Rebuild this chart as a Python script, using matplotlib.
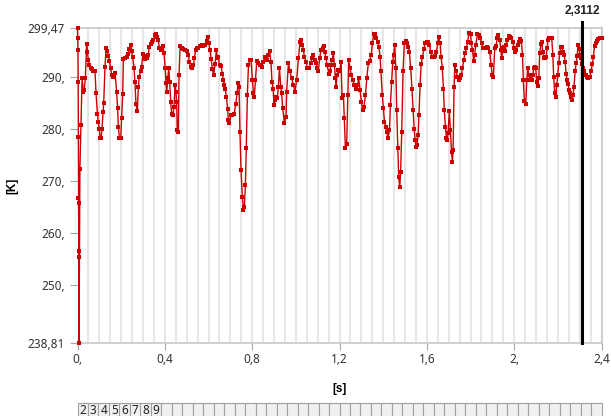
import matplotlib
matplotlib.use('Agg')
import matplotlib.pyplot as plt
import matplotlib.transforms as mtransforms
from matplotlib.ticker import MultipleLocator
from matplotlib.patches import Rectangle

# temperature probe values
time_s = [
    0.000, 0.001, 0.002, 0.003, 0.004, 0.0045, 0.005, 0.0055, 0.006, 0.007,
    0.011, 0.016, 0.021, 0.027, 0.031, 0.036, 0.042, 0.045, 0.050, 0.054,
    0.060, 0.065, 0.073, 0.080, 0.085, 0.091, 0.095, 0.100, 0.103, 0.108,
    0.112, 0.117, 0.120, 0.126, 0.131, 0.137, 0.141, 0.146, 0.152, 0.157,
    0.161, 0.167, 0.172, 0.179, 0.184, 0.187, 0.192, 0.198, 0.202, 0.207,
    0.210, 0.218, 0.225, 0.233, 0.237, 0.244, 0.248, 0.253, 0.259, 0.263,
    0.268, 0.274, 0.279, 0.283, 0.289, 0.294, 0.299, 0.305, 0.309, 0.317,
    0.324, 0.329, 0.335, 0.340, 0.347, 0.355, 0.360, 0.366, 0.370, 0.375,
    0.381, 0.386, 0.390, 0.396, 0.402, 0.405, 0.409, 0.413, 0.418, 0.422,
    0.427, 0.431, 0.436, 0.442, 0.447, 0.451, 0.454, 0.457, 0.462, 0.465,
    0.470, 0.477, 0.485, 0.492, 0.500, 0.508, 0.512, 0.518, 0.526, 0.531,
    0.535, 0.541, 0.547, 0.554, 0.561, 0.569, 0.576, 0.584, 0.592, 0.596,
    0.602, 0.607, 0.612, 0.618, 0.624, 0.630, 0.636, 0.641, 0.645, 0.651,
    0.657, 0.663, 0.668, 0.673, 0.677, 0.682, 0.688, 0.691, 0.696, 0.703,
    0.709, 0.718, 0.725, 0.731, 0.735, 0.740, 0.744, 0.749, 0.755, 0.760,
    0.764, 0.769, 0.773, 0.778, 0.783, 0.789, 0.795, 0.801, 0.806, 0.810,
    0.815, 0.821, 0.828, 0.836, 0.844, 0.851, 0.859, 0.867, 0.874, 0.880,
    0.886, 0.891, 0.896, 0.900, 0.905, 0.909, 0.915, 0.920, 0.925, 0.931,
    0.935, 0.940, 0.948, 0.955, 0.958, 0.966, 0.973, 0.981, 0.989, 0.996,
    1.004, 1.012, 1.019, 1.024, 1.030, 1.035, 1.039, 1.047, 1.053, 1.060,
    1.068, 1.074, 1.080, 1.086, 1.093, 1.099, 1.103, 1.109, 1.115, 1.123,
    1.128, 1.132, 1.138, 1.144, 1.151, 1.157, 1.161, 1.166, 1.172, 1.177,
    1.181, 1.184, 1.189, 1.195, 1.201, 1.207, 1.212, 1.218, 1.222, 1.227,
    1.233, 1.238, 1.242, 1.248, 1.254, 1.261, 1.268, 1.274, 1.282, 1.288,
    1.294, 1.300, 1.306, 1.312, 1.319, 1.325, 1.332, 1.338, 1.345, 1.351,
    1.357, 1.363, 1.369, 1.375, 1.380, 1.386, 1.390, 1.396, 1.401, 1.406,
    1.412, 1.416, 1.422, 1.429, 1.433, 1.439, 1.444, 1.448, 1.453, 1.458,
    1.462, 1.467, 1.471, 1.476, 1.480, 1.485, 1.491, 1.497, 1.503, 1.508,
    1.514, 1.520, 1.526, 1.532, 1.537, 1.542, 1.546, 1.551, 1.555, 1.560,
    1.564, 1.569, 1.574, 1.580, 1.586, 1.592, 1.600, 1.607, 1.612, 1.618,
    1.625, 1.632, 1.638, 1.644, 1.650, 1.654, 1.661, 1.665, 1.671, 1.676,
    1.680, 1.685, 1.690, 1.694, 1.697, 1.703, 1.708, 1.713, 1.717, 1.720,
    1.725, 1.728, 1.734, 1.740, 1.746, 1.752, 1.758, 1.763, 1.769, 1.775,
    1.781, 1.787, 1.793, 1.800, 1.804, 1.809, 1.815, 1.819, 1.824, 1.832,
    1.839, 1.845, 1.851, 1.858, 1.864, 1.870, 1.876, 1.882, 1.888, 1.894,
    1.900, 1.905, 1.911, 1.917, 1.923, 1.928, 1.934, 1.939, 1.943, 1.948,
    1.954, 1.958, 1.963, 1.969, 1.975, 1.981, 1.987, 1.993, 2.000, 2.004,
    2.010, 2.016, 2.022, 2.029, 2.033, 2.038, 2.042, 2.047, 2.053, 2.058,
    2.062, 2.067, 2.071, 2.076, 2.081, 2.085, 2.090, 2.094, 2.099, 2.103,
    2.108, 2.113, 2.117, 2.122, 2.126, 2.131, 2.135, 2.142, 2.146, 2.151,
    2.155, 2.160, 2.166, 2.172, 2.177, 2.181, 2.186, 2.190, 2.195, 2.200,
    2.204, 2.209, 2.213, 2.219, 2.224, 2.229, 2.233, 2.238, 2.242, 2.247,
    2.252, 2.256, 2.261, 2.265, 2.270, 2.274, 2.279, 2.284, 2.288, 2.293,
    2.297, 2.302, 2.305, 2.310, 2.316, 2.322, 2.328, 2.334, 2.340, 2.346,
    2.352, 2.358, 2.363, 2.368, 2.374, 2.380, 2.386, 2.393, 2.400,
]
temp_k = [
    299.47, 297.6, 295.2, 289.0, 278.5, 266.8, 265.7, 256.6, 255.4, 238.81,
    272.4, 280.8, 289.8, 287.2, 287.5, 289.9, 296.4, 294.9, 293.3, 292.3,
    291.8, 291.5, 291.1, 291.1, 286.9, 283.0, 281.4, 280.1, 278.2, 278.2,
    280.1, 283.2, 285.0, 292.0, 295.7, 295.0, 294.1, 293.1, 291.7, 290.5,
    290.1, 290.4, 290.9, 287.2, 284.0, 280.5, 278.2, 278.2, 282.1, 286.7,
    293.5, 293.6, 293.9, 294.4, 295.4, 296.2, 295.0, 293.8, 291.7, 289.1,
    284.8, 283.5, 288.2, 290.1, 291.1, 292.0, 294.4, 294.1, 293.5, 293.6,
    294.3, 295.9, 296.3, 296.7, 297.2, 298.1, 298.3, 297.8, 297.2, 295.6,
    295.2, 295.4, 296.1, 294.6, 291.7, 288.8, 287.2, 289.8, 291.7, 289.1,
    285.3, 283.0, 282.7, 284.3, 288.5, 287.2, 285.3, 279.8, 279.5, 290.4,
    296.1, 295.6, 295.4, 295.2, 295.0, 294.3, 292.9, 292.0, 291.8, 292.3,
    293.6, 295.2, 295.6, 295.7, 296.1, 296.2, 296.1, 296.2, 297.0, 297.8,
    296.5, 295.2, 293.5, 291.6, 290.4, 292.5, 295.2, 293.6, 293.9, 292.3,
    292.2, 290.7, 289.5, 288.5, 287.8, 286.2, 283.8, 281.7, 281.1, 282.7,
    282.8, 283.0, 284.9, 286.9, 288.8, 288.2, 279.5, 272.1, 267.0, 264.4,
    265.0, 269.2, 276.3, 286.6, 292.3, 293.3, 293.3, 289.5, 286.9, 286.2,
    289.5, 293.1, 292.7, 292.3, 292.0, 293.0, 293.9, 293.3, 294.3, 295.0,
    292.9, 289.0, 287.8, 284.6, 285.6, 286.2, 285.9, 288.2, 291.7, 288.2,
    286.9, 284.0, 281.1, 282.4, 287.2, 292.7, 291.1, 289.8, 288.5, 287.2,
    289.5, 293.6, 296.8, 297.2, 296.2, 295.2, 293.9, 293.0, 291.8, 291.7,
    292.7, 293.6, 294.3, 293.3, 292.7, 291.7, 291.1, 293.6, 295.2, 295.7,
    296.1, 294.9, 293.6, 292.3, 290.7, 291.1, 292.3, 293.3, 294.6, 292.3,
    289.8, 288.2, 290.4, 291.4, 291.1, 293.0, 286.0, 286.6, 282.1, 276.3,
    277.2, 286.6, 293.3, 291.7, 290.4, 289.5, 288.5, 287.8, 288.5, 289.8,
    287.5, 285.3, 283.7, 284.3, 286.6, 289.8, 292.7, 293.1, 294.3, 296.5,
    298.4, 298.3, 297.5, 296.8, 295.9, 293.9, 291.1, 286.6, 284.0, 281.4,
    280.5, 279.5, 278.2, 279.8, 284.6, 289.1, 293.0, 294.3, 296.2, 291.7,
    283.7, 276.3, 270.8, 268.9, 271.8, 279.5, 291.1, 296.5, 297.0, 296.5,
    295.9, 294.9, 291.7, 287.8, 283.7, 280.1, 277.9, 276.6, 276.9, 278.9,
    282.7, 288.5, 292.5, 293.9, 295.4, 296.5, 296.8, 296.7, 296.2, 294.9,
    293.9, 293.8, 294.1, 294.9, 296.5, 297.8, 296.5, 293.9, 291.8, 287.8,
    283.7, 280.5, 278.2, 277.9, 279.2, 283.5, 279.8, 275.6, 273.7, 275.9,
    288.2, 292.3, 291.1, 290.1, 289.5, 289.8, 290.4, 291.7, 293.3, 294.6,
    295.6, 296.8, 298.6, 298.3, 296.5, 295.2, 293.1, 294.3, 296.2, 298.3,
    298.1, 297.5, 296.5, 295.6, 295.6, 295.6, 295.9, 295.6, 294.9, 292.3,
    290.4, 290.1, 295.6, 296.1, 297.5, 298.1, 297.2, 295.2, 293.6, 295.6,
    295.9, 295.0, 296.2, 297.2, 298.0, 297.8, 297.6, 296.8, 295.7, 294.8,
    295.2, 296.2, 296.7, 297.3, 297.0, 294.3, 289.5, 285.4, 284.8, 289.5,
    291.7, 290.4, 289.5, 290.5, 289.5, 290.4, 291.7, 292.0, 291.7, 289.1,
    288.3, 289.8, 294.6, 296.3, 296.8, 294.9, 293.6, 293.6, 293.9, 295.6,
    297.2, 297.6, 297.6, 297.5, 294.3, 290.1, 286.9, 286.2, 288.5, 290.4,
    292.7, 294.6, 295.9, 295.9, 294.9, 294.3, 293.0, 290.7, 289.5, 288.6,
    287.5, 286.9, 286.2, 285.6, 286.6, 288.2, 291.1, 292.7, 294.1, 296.2,
    295.4, 294.3, 293.6, 292.5, 291.7, 291.1, 290.4, 290.1, 289.8, 290.1,
    291.1, 292.5, 293.9, 296.1, 296.5, 296.9, 297.3, 297.6, 297.5,
]

x_ticks = [0.0, 0.4, 0.8, 1.2, 1.6, 2.0, 2.4]
x_tick_labels = ['0,', '0,4', '0,8', '1,2', '1,6', '2,', '2,4']
y_ticks = [238.81, 250, 260, 270, 280, 290, 299.47]
y_tick_labels = ['238,81', '250,', '260,', '270,', '280,', '290,', '299,47']
cursor_t = 2.3112
cursor_label = '2,3112'
strip_labels = ['2', '3', '4', '5', '6', '7', '8', '9']
n_cells = 50

plt.rcParams['font.family'] = ['Noto Sans', 'DejaVu Sans']
bold_font = {'family': ['Liberation Sans', 'DejaVu Sans'], 'weight': 'bold',
             'size': 8.5}

fig = plt.figure(figsize=(6.11, 4.16), dpi=100)
ax = fig.add_axes([77.5 / 611, 1 - 343 / 416, 524 / 611, 315 / 416])

ax.plot(time_s, temp_k, color='#CC0000', lw=1.0, marker='s', ms=2.6,
        mew=0, clip_on=False, zorder=3)

ax.set_xlim(0, 2.4)
ax.set_ylim(238.81, 299.47)
ax.set_xticks(x_ticks)
ax.set_xticklabels(x_tick_labels)
ax.set_yticks(y_ticks)
ax.set_yticklabels(y_tick_labels)
ax.xaxis.set_minor_locator(MultipleLocator(0.05))
ax.grid(True, which='both', axis='x', color='#E6E6E6', lw=1.5)
ax.set_axisbelow(True)
ax.tick_params(axis='x', which='minor', length=0)
ax.tick_params(axis='both', which='major', color='#A6A6A6', labelcolor='#333333',
               labelsize=8.5)
ax.tick_params(axis='y', length=6, pad=3)
ax.tick_params(axis='x', length=5, pad=2)

ax.spines['left'].set_visible(False)
for s in ['top', 'bottom', 'right']:
    ax.spines[s].set_color('#C8C8C8')
    ax.spines[s].set_linewidth(1.2)

ax.set_xlabel('[s]', fontdict=bold_font)
ax.set_ylabel('[K]', fontdict=bold_font)
ax.xaxis.set_label_coords(0.5, -0.127)
ax.yaxis.set_label_coords(-0.1135, 0.5)

# cursor line with its value on top
trans = mtransforms.blended_transform_factory(ax.transData, ax.transAxes)
ax.plot([cursor_t, cursor_t], [0, 1.02], transform=trans, color='black',
        lw=2.2, clip_on=False, zorder=5)
ax.text(cursor_t, 1.035, cursor_label, transform=trans, ha='center', va='bottom',
        fontdict=bold_font, color='#222222')

# strip of numbered cells at the bottom
sx = fig.add_axes([77.5 / 611, 0, 524 / 611, 13 / 416])
sx.set_xlim(0, n_cells)
sx.set_ylim(0, 1)
sx.axis('off')
for i in range(n_cells):
    sx.add_patch(Rectangle((i, -0.5), 1, 1.5, facecolor='#F0F0F0',
                           edgecolor='#A0A0A0', lw=0.8, clip_on=False))
for i, lab in enumerate(strip_labels):
    sx.text(i + 0.5, 0.4, lab, ha='center', va='center', fontsize=8.5,
            color='#222222')

fig.savefig('out.png', dpi=100)
